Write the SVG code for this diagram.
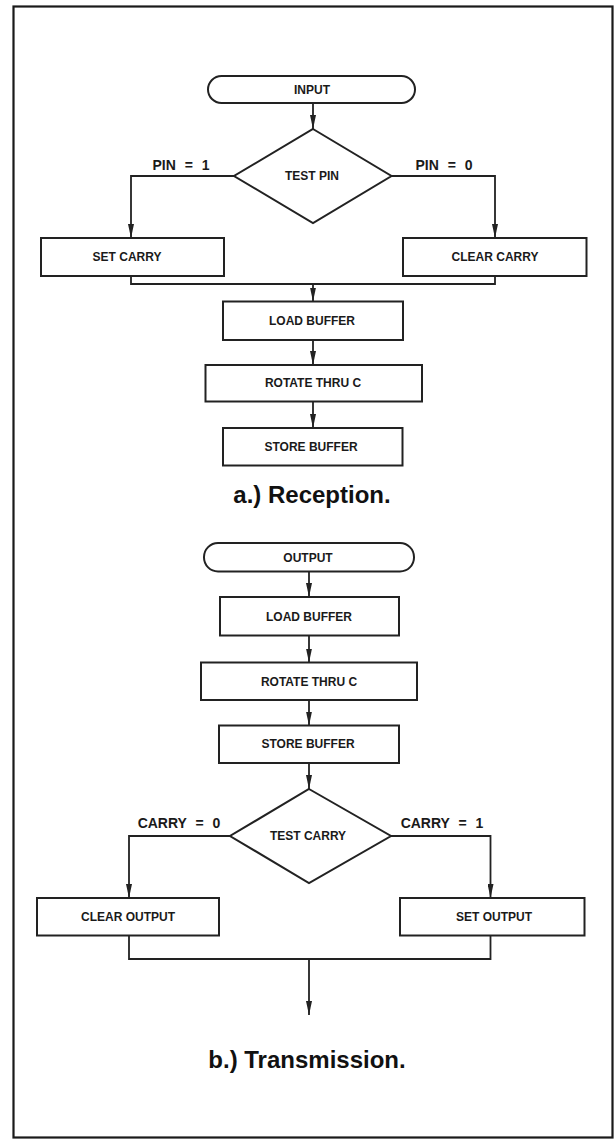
<svg xmlns="http://www.w3.org/2000/svg" width="614" height="1140" viewBox="0 0 614 1140">
  <style>
    .frame { fill: none; stroke: #1a1a1a; stroke-width: 2.2; }
    .box { fill: #ffffff; stroke: #222222; stroke-width: 2; }
    .wire { fill: none; stroke: #222222; stroke-width: 1.8; }
    .lbl { font-family: "Liberation Sans", Arial, sans-serif; font-weight: bold; font-size: 12px; fill: #1a1a1a; text-anchor: middle; dominant-baseline: central; }
    .cond { font-family: "Liberation Sans", Arial, sans-serif; font-weight: bold; font-size: 14px; fill: #1a1a1a; text-anchor: middle; word-spacing: 5px; }
    .title { font-family: "Liberation Sans", Arial, sans-serif; font-weight: bold; font-size: 24px; fill: #111111; text-anchor: middle; }
  </style>
  <defs>
    <marker id="arrow" viewBox="0 0 14 6" refX="14" refY="3" markerWidth="14" markerHeight="6" markerUnits="userSpaceOnUse" orient="auto">
      <path d="M0,0 L14,3 L0,6 z" fill="#222222"/>
    </marker>
  </defs>

  <rect width="614" height="1140" fill="#ffffff"/>
  <rect class="frame" x="13.5" y="6.5" width="599" height="1131"/>

  <!-- connectors -->
  <g id="connectors">
    <!-- reception -->
    <path class="wire" d="M313,103 V129" marker-end="url(#arrow)"/>
    <path class="wire" d="M234,176 H131 V238" marker-end="url(#arrow)"/>
    <path class="wire" d="M391.5,176 H495 V238" marker-end="url(#arrow)"/>
    <path class="wire" d="M131,276 V284 H495 V276"/>
    <path class="wire" d="M313,284 V301.5" marker-end="url(#arrow)"/>
    <path class="wire" d="M313,340 V365" marker-end="url(#arrow)"/>
    <path class="wire" d="M313,401.5 V428" marker-end="url(#arrow)"/>
    <!-- transmission -->
    <path class="wire" d="M309,571.5 V597" marker-end="url(#arrow)"/>
    <path class="wire" d="M309,635.5 V662.5" marker-end="url(#arrow)"/>
    <path class="wire" d="M309,700 V725.5" marker-end="url(#arrow)"/>
    <path class="wire" d="M309,763 V789" marker-end="url(#arrow)"/>
    <path class="wire" d="M230,836 H129 V898" marker-end="url(#arrow)"/>
    <path class="wire" d="M391,836 H490.5 V898" marker-end="url(#arrow)"/>
    <path class="wire" d="M129,935.5 V959 H490.5 V935.5"/>
    <path class="wire" d="M309,959 V1015" marker-end="url(#arrow)"/>
  </g>

  <!-- a.) reception -->
  <g id="input">
    <rect class="box" x="208" y="76" width="207" height="27" rx="13.5"/>
    <text class="lbl" x="312" y="89.5">INPUT</text>
  </g>
  <g id="test-pin">
    <polygon class="box" points="313,129 391.5,176 313,223 234,176"/>
    <text class="lbl" x="312" y="176">TEST PIN</text>
  </g>
  <g id="pin-labels">
    <text class="cond" x="181" y="170">PIN = 1</text>
    <text class="cond" x="444" y="170">PIN = 0</text>
  </g>
  <g id="set-carry">
    <rect class="box" x="41" y="238" width="183" height="38"/>
    <text class="lbl" x="127" y="257">SET CARRY</text>
  </g>
  <g id="clear-carry">
    <rect class="box" x="403" y="238" width="183.5" height="38"/>
    <text class="lbl" x="495" y="257">CLEAR CARRY</text>
  </g>
  <g id="load-buffer-a">
    <rect class="box" x="223" y="301.5" width="180" height="38.5"/>
    <text class="lbl" x="312" y="321">LOAD BUFFER</text>
  </g>
  <g id="rotate-a">
    <rect class="box" x="205.5" y="365" width="216.5" height="36.5"/>
    <text class="lbl" x="313" y="383">ROTATE THRU C</text>
  </g>
  <g id="store-buffer-a">
    <rect class="box" x="223" y="428" width="179.5" height="37.5"/>
    <text class="lbl" x="311" y="447">STORE BUFFER</text>
  </g>
  <text class="title" x="312" y="503">a.) Reception.</text>

  <!-- b.) transmission -->
  <g id="output">
    <rect class="box" x="204" y="543" width="210" height="28.5" rx="14"/>
    <text class="lbl" x="308" y="557.5">OUTPUT</text>
  </g>
  <g id="load-buffer-b">
    <rect class="box" x="220" y="597" width="179" height="38.5"/>
    <text class="lbl" x="309" y="616.5">LOAD BUFFER</text>
  </g>
  <g id="rotate-b">
    <rect class="box" x="201" y="662.5" width="216" height="37.5"/>
    <text class="lbl" x="309" y="681.5">ROTATE THRU C</text>
  </g>
  <g id="store-buffer-b">
    <rect class="box" x="219" y="725.5" width="180" height="37.5"/>
    <text class="lbl" x="308" y="744">STORE BUFFER</text>
  </g>
  <g id="test-carry">
    <polygon class="box" points="309,789 391,836 309,883 230,836"/>
    <text class="lbl" x="308" y="836">TEST CARRY</text>
  </g>
  <g id="carry-labels">
    <text class="cond" x="179" y="828">CARRY = 0</text>
    <text class="cond" x="442" y="828">CARRY = 1</text>
  </g>
  <g id="clear-output">
    <rect class="box" x="37" y="898" width="182" height="37.5"/>
    <text class="lbl" x="128" y="917">CLEAR OUTPUT</text>
  </g>
  <g id="set-output">
    <rect class="box" x="400" y="898" width="184.5" height="37.5"/>
    <text class="lbl" x="494" y="917">SET OUTPUT</text>
  </g>
  <text class="title" x="307" y="1068">b.) Transmission.</text>
</svg>
